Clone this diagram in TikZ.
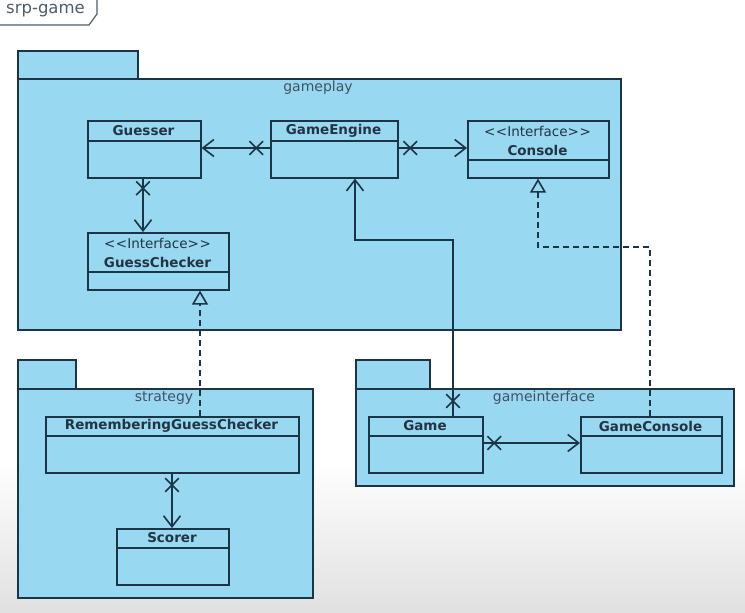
\documentclass[tikz,border=0pt]{standalone}
\usepackage{fontspec}
\setmainfont{DejaVu Sans}
\usetikzlibrary{arrows.meta,shapes.misc,calc}
\definecolor{pkgfill}{HTML}{99D8F1}
\definecolor{ink}{HTML}{1B3446}
\definecolor{txt}{HTML}{223444}
\tikzset{
  line/.style={draw=ink, line width=1.6pt},
  pkg/.style={line, fill=pkgfill, inner sep=0pt, anchor=north west},
  cls/.style={line, fill=pkgfill, inner sep=0pt, anchor=north west},
  clstext/.style={text=txt, font=\bfseries\fontsize{13.5}{15}\selectfont, inner sep=0pt},
  stereo/.style={text=txt, font=\fontsize{13.5}{15}\selectfont, inner sep=0pt},
  pkgtext/.style={text=txt!85, font=\fontsize{14}{16}\selectfont, inner sep=0pt},
  xmark/.style={cross out, draw=ink, line width=1.6pt, minimum size=12pt, inner sep=0pt, sloped},
  assoc/.style={line, -{Straight Barb[length=11pt,width=17pt,line width=1.6pt]}},
  realize/.style={line, dash pattern=on 6pt off 4pt, -{Triangle[open,length=14pt,width=16pt,line width=1.6pt]}},
}
\newcommand\umlclass[6]{%
  \node[cls, minimum width=#4pt, minimum height=#5pt] (#1) at (#2,#3) {};
  \draw[line] ($(#1.north west)+(0,#6)$) -- ($(#1.north east)+(0,#6)$);
}
\newcommand\ltlt{<\kern0.04em<}
\newcommand\gtgt{>\kern0.04em>}
\begin{document}
\begin{tikzpicture}[x=1pt,y=-1pt]
\useasboundingbox (0,0) rectangle (745,613);
\shade[top color=white, bottom color=black!12] (0,460) rectangle (745,613);
% frame tab
\draw[draw=ink!80, line width=1.2pt] (-2,25) -- (89,25) -- (97,14) -- (97,-2);
\node[text=txt!80, font=\fontsize{16.5}{18}\selectfont, inner sep=0pt] (frame) at (45.5,11) {srp-game};
% packages
\node[pkg, minimum width=120pt, minimum height=28pt] (gptab) at (17,50) {};
\node[pkg, minimum width=603pt, minimum height=251pt] (gameplay) at (17,78) {};
\node[pkgtext] (gplabel) at (318,88) {gameplay};
\node[pkg, minimum width=58pt, minimum height=29pt] (sttab) at (17,359) {};
\node[pkg, minimum width=295pt, minimum height=209pt] (strategy) at (17,388) {};
\node[pkgtext] (stlabel) at (164,398) {strategy};
\node[pkg, minimum width=74pt, minimum height=29pt] (gitab) at (355,359) {};
\node[pkg, minimum width=378pt, minimum height=97pt] (gameinterface) at (355,388) {};
\node[pkgtext] (gilabel) at (544,398) {gameinterface};
% classes
\umlclass{guesser}{87}{120}{113}{57}{21}
\node[clstext] (guessert) at (143.5,131) {Guesser};
\umlclass{engine}{270}{120}{127}{57}{21}
\node[clstext] (enginet) at (333.5,131) {GameEngine};
\umlclass{console}{467}{120}{141}{57}{40}
\node[stereo] (consoles) at (537.5,131) {\ltlt Interface\gtgt};
\node[clstext] (consolet) at (537.5,150) {Console};
\umlclass{checker}{87}{232}{141}{57}{40}
\node[stereo] (checkers) at (157.5,243) {\ltlt Interface\gtgt};
\node[clstext] (checkert) at (157.5,262) {GuessChecker};
\umlclass{rgc}{45}{416}{253}{56}{20}
\node[clstext] (rgct) at (171.5,426) {RememberingGuessChecker};
\umlclass{scorer}{116}{528}{112}{56}{20}
\node[clstext] (scorert) at (172,538) {Scorer};
\umlclass{game}{368}{416}{114}{56}{20}
\node[clstext] (gamet) at (425,426) {Game};
\umlclass{gconsole}{580}{416}{141}{56}{20}
\node[clstext] (gconsolet) at (650.5,426) {GameConsole};
% connectors
\draw[assoc] (engine.west |- 0,148) -- node[xmark, pos=0.2]{} (guesser.east |- 0,148);
\draw[assoc] (engine.east |- 0,148) -- node[xmark, pos=0.17]{} (console.west |- 0,148);
\draw[assoc] (guesser.south -| 143,0) -- node[xmark, pos=0.18]{} (checker.north -| 143,0);
\coordinate (c1) at (453,240);
\coordinate (c2) at (355,240);
\draw[assoc] (game.north -| 453,0) -- node[xmark, pos=0.085]{} (c1) -- (c2) -- (engine.south -| 355,0);
\draw[assoc] (game.east |- 0,443) -- node[xmark, pos=0.11]{} (gconsole.west |- 0,443);
\draw[assoc] (rgc.south -| 172,0) -- node[xmark, pos=0.21]{} (scorer.north -| 172,0);
\coordinate (d1) at (650,247);
\coordinate (d2) at (538,247);
\draw[realize] (gconsole.north -| 650,0) -- (d1) -- (d2) -- (console.south -| 538,0);
\draw[realize] (rgc.north -| 200,0) -- (checker.south -| 200,0);
\end{tikzpicture}
\end{document}
